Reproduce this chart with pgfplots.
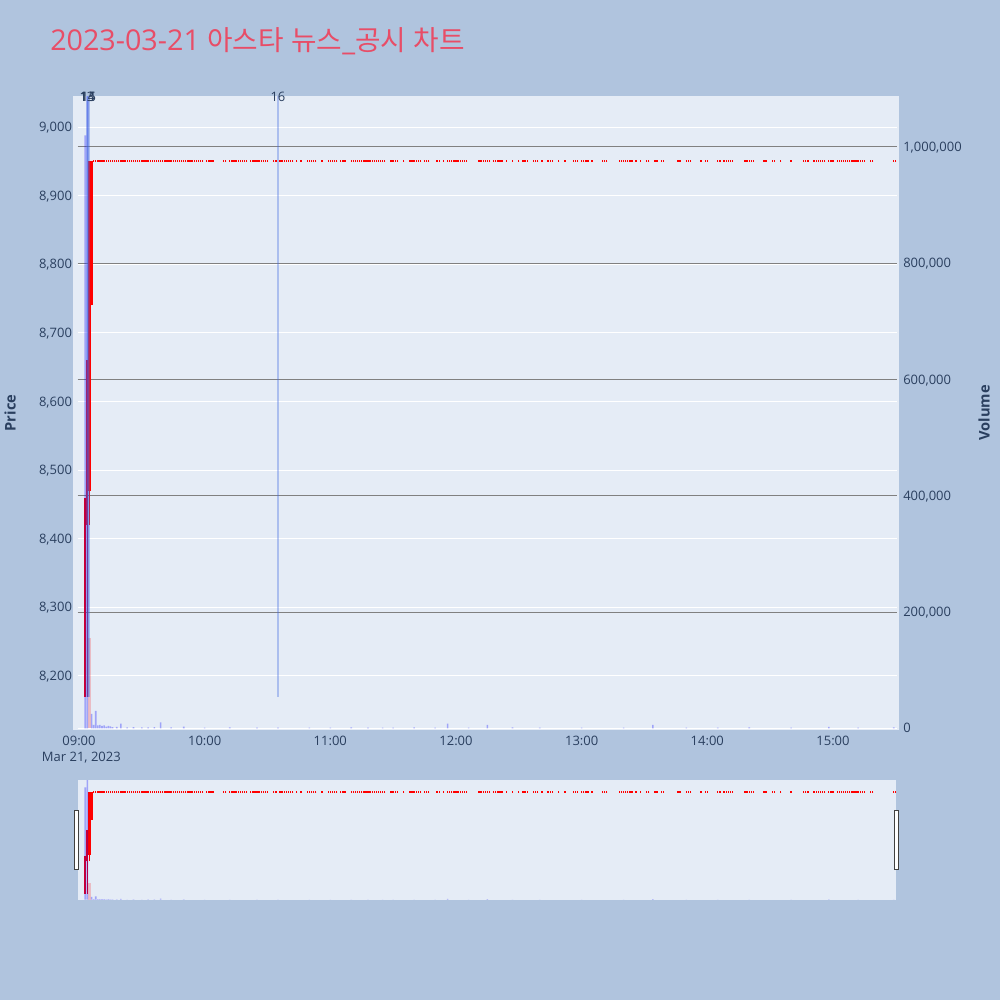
\documentclass[border=0pt]{standalone}
\usepackage{fontspec}
\setmainfont{Open Sans}
\newfontfamily\kr{Noto Sans CJK KR}
\usepackage{pgfplots}
\usepackage{pgfplotstable}
\pgfplotsset{compat=1.18}

\definecolor{pagebg}{HTML}{B0C4DE}
\definecolor{plotbg}{HTML}{E5ECF6}
\definecolor{txt}{HTML}{2A3F5F}
\definecolor{titlec}{HTML}{E84D67}
\definecolor{mk}{HTML}{4169E1}

% minutes after 09:00 with a trade at the flat price
\pgfplotstableread[row sep=\\]{
t p\\
7 8950\\ 8 8950\\ 9 8950\\ 10 8950\\ 11 8950\\ 12 8950\\ 13 8950\\ 14 8950\\ 15 8950\\ 16 8950\\
17 8950\\ 18 8950\\ 19 8950\\ 20 8950\\ 21 8950\\ 22 8950\\ 23 8950\\ 24 8950\\ 25 8950\\ 26 8950\\
27 8950\\ 28 8950\\ 29 8950\\ 30 8950\\ 31 8950\\ 32 8950\\ 33 8950\\ 34 8950\\ 35 8950\\ 36 8950\\
37 8950\\ 38 8950\\ 39 8950\\ 40 8950\\ 41 8950\\ 42 8950\\ 43 8950\\ 44 8950\\ 45 8950\\ 46 8950\\
47 8950\\ 48 8950\\ 49 8950\\ 50 8950\\ 51 8950\\ 52 8950\\ 53 8950\\ 54 8950\\ 55 8950\\ 56 8950\\
57 8950\\ 58 8950\\ 59 8950\\ 61 8950\\ 62 8950\\ 63 8950\\ 64 8950\\ 69 8950\\ 70 8950\\ 72 8950\\
73 8950\\ 74 8950\\ 75 8950\\ 76 8950\\ 77 8950\\ 78 8950\\ 79 8950\\ 80 8950\\ 82 8950\\ 83 8950\\
84 8950\\ 85 8950\\ 86 8950\\ 87 8950\\ 88 8950\\ 89 8950\\ 90 8950\\ 93 8950\\ 94 8950\\ 96 8950\\
97 8950\\ 98 8950\\ 99 8950\\ 100 8950\\ 101 8950\\ 102 8950\\ 104 8950\\ 106 8950\\ 109 8950\\ 110 8950\\
111 8950\\ 112 8950\\ 113 8950\\ 116 8950\\ 119 8950\\ 120 8950\\ 121 8950\\ 122 8950\\ 123 8950\\ 125 8950\\
126 8950\\ 127 8950\\ 130 8950\\ 131 8950\\ 132 8950\\ 133 8950\\ 134 8950\\ 135 8950\\ 136 8950\\ 137 8950\\
138 8950\\ 139 8950\\ 140 8950\\ 141 8950\\ 142 8950\\ 143 8950\\ 144 8950\\ 145 8950\\ 146 8950\\ 149 8950\\
150 8950\\ 151 8950\\ 152 8950\\ 155 8950\\ 158 8950\\ 159 8950\\ 160 8950\\ 161 8950\\ 162 8950\\ 163 8950\\
165 8950\\ 166 8950\\ 167 8950\\ 171 8950\\ 172 8950\\ 174 8950\\ 176 8950\\ 177 8950\\ 178 8950\\ 179 8950\\
180 8950\\ 181 8950\\ 182 8950\\ 183 8950\\ 184 8950\\ 185 8950\\ 191 8950\\ 192 8950\\ 193 8950\\ 194 8950\\
195 8950\\ 196 8950\\ 198 8950\\ 199 8950\\ 200 8950\\ 201 8950\\ 202 8950\\ 204 8950\\ 207 8950\\ 210 8950\\
212 8950\\ 213 8950\\ 214 8950\\ 217 8950\\ 218 8950\\ 219 8950\\ 221 8950\\ 224 8950\\ 225 8950\\ 226 8950\\
229 8950\\ 232 8950\\ 236 8950\\ 237 8950\\ 238 8950\\ 240 8950\\ 241 8950\\ 242 8950\\ 243 8950\\ 245 8950\\
250 8950\\ 251 8950\\ 252 8950\\ 258 8950\\ 259 8950\\ 260 8950\\ 261 8950\\ 262 8950\\ 263 8950\\ 264 8950\\
266 8950\\ 268 8950\\ 271 8950\\ 272 8950\\ 275 8950\\ 276 8950\\ 278 8950\\ 279 8950\\ 286 8950\\ 287 8950\\
290 8950\\ 291 8950\\ 292 8950\\ 297 8950\\ 299 8950\\ 300 8950\\ 305 8950\\ 306 8950\\ 308 8950\\ 309 8950\\
310 8950\\ 311 8950\\ 312 8950\\ 318 8950\\ 319 8950\\ 320 8950\\ 321 8950\\ 322 8950\\ 327 8950\\ 328 8950\\
331 8950\\ 332 8950\\ 335 8950\\ 340 8950\\ 346 8950\\ 347 8950\\ 348 8950\\ 351 8950\\ 352 8950\\ 353 8950\\
354 8950\\ 355 8950\\ 356 8950\\ 358 8950\\ 359 8950\\ 360 8950\\ 362 8950\\ 363 8950\\ 364 8950\\ 365 8950\\
366 8950\\ 367 8950\\ 368 8950\\ 369 8950\\ 370 8950\\ 371 8950\\ 372 8950\\ 373 8950\\ 374 8950\\ 375 8950\\
378 8950\\ 379 8950\\ 389 8950\\ 390 8950\\
}\flat

\pgfplotstableread[row sep=\\]{
t v\\
3 1020000\\ 4 1087000\\ 6 25000\\ 7 6000\\ 8 30000\\ 9 5000\\ 10 6000\\ 11 4000\\ 12 5000\\ 13 3000\\
14 4000\\ 15 3500\\ 16 2000\\ 18 2500\\ 20 8000\\ 23 1500\\ 26 2000\\ 30 1500\\ 33 1800\\ 36 2000\\
39 10000\\ 44 1500\\ 50 3000\\ 60 1200\\ 72 1500\\ 85 1200\\ 95 1000\\ 110 1000\\ 120 1200\\ 130 1500\\
138 1000\\ 145 1200\\ 150 1000\\ 160 1500\\ 170 1200\\ 176 8000\\ 186 1000\\ 195 6000\\ 207 1500\\ 220 1000\\
240 1200\\ 260 1000\\ 274 6000\\ 290 1000\\ 305 1200\\ 320 1500\\ 340 1000\\ 358 2500\\ 372 1200\\ 389 1500\\
}\volblue

\pgfplotstableread[row sep=\\]{
t v\\
5 155000\\
}\volpink

\tikzset{ticktext/.style={font=\fontsize{9.75}{11}\selectfont, text=txt}}
\pgfplotsset{
  base/.style={scale only axis, anchor=south west, xmin=-0.7, xmax=390.5},
  main/.style={base, at={(58.15pt,202.5pt)}, width=614.5pt, height=475.5pt},
  slider/.style={base, at={(58.15pt,75pt)}, width=614.5pt, height=90pt},
  price/.style={ymin=8121.3, ymax=9045.2},
  vol/.style={ymin=-2900, ymax=1087700},
}

\newcommand{\candles}{%
  % wicks
  \addplot[red, line width=0.75pt] coordinates {(3,8170) (3,8460)};
  \addplot[red, line width=0.75pt] coordinates {(4,8170) (4,8660)};
  \addplot[red, line width=0.75pt] coordinates {(5,8420) (5,8950)};
  \addplot[red, line width=0.75pt] coordinates {(6,8740) (6,8950)};
  % bodies
  \addplot[red, line width=1.6pt] coordinates {(3,8170) (3,8460)};
  \addplot[red, line width=1.6pt] coordinates {(4,8420) (4,8660)};
  \addplot[red, line width=1.6pt] coordinates {(5,8470) (5,8950)};
  \addplot[red, line width=1.8pt] coordinates {(6,8740) (6,8950)};
  \addplot[only marks, mark=-, mark size=0.5pt, red, mark options={line width=1.6pt}] table[x=t, y=p] {\flat};
}
\newcommand{\volumes}{%
  \addplot[ybar, bar width=1.2pt, fill=blue, fill opacity=0.3, draw=none] table[x=t, y=v] {\volblue};
  \addplot[ybar, bar width=1.6pt, fill=red, fill opacity=0.2, draw=none] table[x=t, y=v] {\volpink};
}
\newcommand{\ko}[1]{{\kr\fontsize{20.8}{25}\selectfont #1}}

\begin{document}
\begin{tikzpicture}
\fill[pagebg] (0,0) rectangle (750pt,750pt);
% plot area background
\fill[plotbg] (54.75pt,202.5pt) rectangle (674.25pt,678pt);
% range slider background
\fill[plotbg] (58.5pt,75pt) rectangle (672pt,165pt);

% title
\node[anchor=base west, inner sep=0pt, text=titlec] at (37.5pt,711.75pt)
  {\fontsize{21.5}{26}\selectfont 2023-03-21 \ko{아스타} \ko{뉴스}\_\ko{공시} \ko{차트}};

% price axis: white grid, left ticks, time ticks
\begin{axis}[main, price,
  axis line style={draw=none}, major tick length=0pt,
  ymajorgrids, grid style={white, line width=0.75pt},
  xtick={0,60,...,360},
  xticklabels={09:00,10:00,11:00,12:00,13:00,14:00,15:00},
  ytick={8200,8300,...,9000},
  yticklabel style={ticktext, anchor=base east, inner sep=0pt, xshift=-4pt, yshift=-3.4pt},
  xticklabel style={ticktext, anchor=base, inner sep=0pt, yshift=-12pt},
  /pgf/number format/.cd, 1000 sep={,}, assume math mode=true]
\addplot[draw=none] coordinates {(0,8500)};
\end{axis}

% volume axis: gray grid, right ticks
\begin{axis}[main, vol,
  axis line style={draw=none}, major tick length=0pt,
  xtick=\empty, yticklabel pos=right,
  scaled y ticks=false,
  ymajorgrids, grid style={gray, line width=0.75pt},
  ytick={200000,400000,...,1000000},
  extra y ticks={0},
  extra y tick style={grid style={white, line width=1pt}},
  yticklabel style={ticktext, anchor=base west, inner sep=0pt, xshift=4.6pt, yshift=-3.4pt},
  /pgf/number format/.cd, fixed, 1000 sep={,}, assume math mode=true]
\addplot[draw=none] coordinates {(0,0)};
\end{axis}

% candles
\begin{axis}[main, price, hide axis]
\candles
\end{axis}

% volume bars
\begin{axis}[main, vol, hide axis]
\volumes
\end{axis}

% news markers
\begin{axis}[main, price, hide axis, clip=false]
\addplot[mk, opacity=0.35, line width=1.5pt] coordinates {(3.8,8170) (3.8,9045.2)};
\addplot[mk, opacity=0.35, line width=1.5pt] coordinates {(4.2,8170) (4.2,9045.2)};
\addplot[mk, opacity=0.35, line width=1.5pt] coordinates {(4.6,8170) (4.6,9045.2)};
\addplot[mk, opacity=0.35, line width=1.5pt] coordinates {(95,8170) (95,9045.2)};
\node[ticktext, inner sep=0pt, yshift=-0.75pt] at (axis cs:3.8,9045.2) {13};
\node[ticktext, inner sep=0pt, yshift=-0.75pt] at (axis cs:4.2,9045.2) {14};
\node[ticktext, inner sep=0pt, yshift=-0.75pt] at (axis cs:4.6,9045.2) {15};
\node[ticktext, inner sep=0pt, yshift=-0.75pt] at (axis cs:95,9045.2) {16};
\end{axis}

% range slider
\begin{axis}[slider, price, hide axis]
\candles
\end{axis}
\begin{axis}[slider, vol, hide axis]
\volumes
\end{axis}
\draw[fill=white, draw=black!75, line width=0.75pt] (55.7pt,97.5pt) rectangle (58.7pt,142pt);
\draw[fill=white, draw=black!75, line width=0.75pt] (670.5pt,97.5pt) rectangle (673.5pt,142pt);

% axis titles and date
\node[ticktext, anchor=base] at (61pt,178.5pt) {Mar 21, 2023};
\node[rotate=90, text=txt, font=\fontsize{11}{13}\selectfont\bfseries] at (7.5pt,440.25pt) {Price};
\node[rotate=90, text=txt, font=\fontsize{11}{13}\selectfont\bfseries] at (738pt,440.25pt) {Volume};

\pgfresetboundingbox
\path (0,0) rectangle (750pt,750pt);
\end{tikzpicture}
\end{document}
